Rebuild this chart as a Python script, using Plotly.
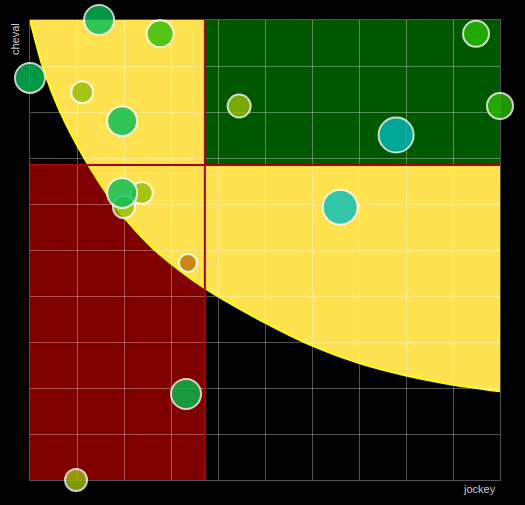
import plotly.graph_objects as go

# --- data ---
bubble_x = [1.47, 2.77, 0.00, 1.11, 1.96, 4.45, 2.00, 2.38, 1.96, 9.49, 10.00, 7.79, 6.60, 3.36, 3.32, 0.98]
bubble_y = [10.00, 9.70, 8.74, 8.43, 7.80, 8.13, 5.93, 6.24, 6.24, 9.70, 8.13, 7.50, 5.93, 4.72, 1.87, 0.00]
bubble_size = [30, 27, 30, 22, 30, 23, 22, 22, 30, 26, 26, 35, 35, 18, 30, 22]
bubble_color = ["#00be55", "#2abe03", "#00be55", "#92bd05", "#00be55", "#99bf00",
                "#92bd05", "#92bd05", "#00be55", "#2abe00", "#2abe00", "#00bbbb",
                "#00bebe", "#bf7405", "#00c04b", "#98c000"]

threshold_x = 3.72
threshold_y = 6.85

curve_x = [0, 0.26, 0.64, 1.16, 1.75, 2.13, 2.72, 3.72, 5.0, 6.0, 7.0, 8.0, 9.0, 10.0]
curve_y = [10, 9.02, 8.01, 6.99, 6.05, 5.56, 4.94, 4.17, 3.42, 2.92, 2.54, 2.27, 2.07, 1.93]

x_range = [0, 10]
y_range = [0, 10]


# --- smooth path through the read curve points (cubic Hermite in x) ---
def smooth_path(xs, ys):
    n = len(xs)
    slopes = []
    for i in range(n):
        a = max(i - 1, 0)
        b = min(i + 1, n - 1)
        slopes.append((ys[b] - ys[a]) / (xs[b] - xs[a]))
    parts = [f"M {xs[0]},{ys[0]}"]
    for i in range(n - 1):
        h = xs[i + 1] - xs[i]
        c1x, c1y = xs[i] + h / 3, ys[i] + slopes[i] * h / 3
        c2x, c2y = xs[i + 1] - h / 3, ys[i + 1] - slopes[i + 1] * h / 3
        parts.append(f"C {c1x},{c1y} {c2x},{c2y} {xs[i + 1]},{ys[i + 1]}")
    return " ".join(parts)


curve_path = smooth_path(curve_x, curve_y)
region_path = curve_path + f" L {x_range[1]},{y_range[1]} Z"

shapes = [
    dict(type="rect", xref="x", yref="y", x0=x_range[0], x1=threshold_x,
         y0=y_range[0], y1=threshold_y, fillcolor="#800000", line_width=0, layer="below"),
    dict(type="path", xref="x", yref="y", path=region_path,
         fillcolor="#ffe250", line_width=0, layer="below"),
    dict(type="rect", xref="x", yref="y", x0=threshold_x, x1=x_range[1],
         y0=threshold_y, y1=y_range[1], fillcolor="#005800", line_width=0, layer="below"),
    dict(type="path", xref="x", yref="y", path=curve_path,
         line=dict(color="#ffff00", width=2), layer="below"),
    dict(type="line", xref="x", yref="y", x0=threshold_x, x1=threshold_x,
         y0=y_range[0], y1=y_range[1], line=dict(color="#b00000", width=2), layer="between"),
    dict(type="line", xref="x", yref="y", x0=x_range[0], x1=x_range[1],
         y0=threshold_y, y1=threshold_y, line=dict(color="#b00000", width=2), layer="between"),
]

fig = go.Figure()
fig.add_trace(go.Scatter(
    x=bubble_x, y=bubble_y, mode="markers", cliponaxis=False,
    marker=dict(size=bubble_size, color=bubble_color, opacity=0.8,
                line=dict(color="#ffffff", width=2)),
    hoverinfo="skip", showlegend=False,
))

grid_rgba = "rgba(255,255,255,0.32)"
axis_common = dict(showgrid=True, gridcolor=grid_rgba, gridwidth=1,
                   dtick=1, tick0=0, showticklabels=False, ticks="",
                   zeroline=False, showline=True, linecolor=grid_rgba, linewidth=1,
                   mirror=True, layer="below traces", fixedrange=True)

fig.update_layout(
    width=525, height=505,
    margin=dict(l=30, r=25, t=20, b=25),
    paper_bgcolor="#000000", plot_bgcolor="#000000",
    xaxis=dict(range=x_range, **axis_common),
    yaxis=dict(range=y_range, **axis_common),
    shapes=shapes,
    showlegend=False,
    font=dict(family="Liberation Sans, Arial, sans-serif", color="#cccccc", size=11),
    annotations=[
        dict(text="jockey", xref="paper", yref="paper", x=0.9564, y=-0.0196,
             xanchor="center", yanchor="middle", showarrow=False,
             font=dict(size=11, color="#cccccc")),
        dict(text="cheval", xref="paper", yref="paper", x=-0.0319, y=0.9587,
             xanchor="center", yanchor="middle", showarrow=False, textangle=-90,
             font=dict(size=11, color="#cccccc")),
    ],
)

fig.write_html(
    "out.html",
    config={"displayModeBar": False},
    post_script="document.body.style.margin='0';document.body.style.background='#000';",
)
